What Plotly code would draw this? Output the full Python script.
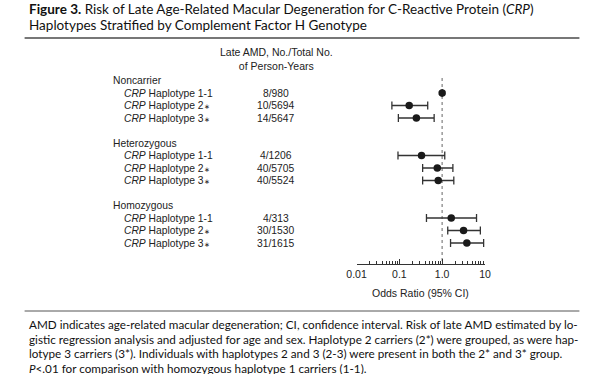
import plotly.graph_objects as go

# ---- data ----
groups = ["Noncarrier", "Heterozygous", "Homozygous"]
haplotypes = ["1-1", "2∗", "3∗"]
counts = ["8/980", "10/5694", "14/5647",
          "4/1206", "40/5705", "40/5524",
          "4/313", "30/1530", "31/1615"]
odds_ratio = [1.0, 0.17, 0.25, 0.33, 0.77, 0.81, 1.63, 3.16, 3.77]
ci_low = [None, 0.067, 0.095, 0.093, 0.35, 0.35, 0.43, 1.35, 1.57]
ci_high = [None, 0.46, 0.65, 1.15, 1.78, 1.87, 6.35, 7.8, 9.3]
tick_vals = [0.01, 0.1, 1, 10]
tick_text = ["0.01", "0.1", "1.0", "10"]

title_lines = [
    "<b>Figure 3.</b> Risk of Late Age-Related Macular Degeneration for C-Reactive Protein (<i>CRP</i>)",
    "Haplotypes Stratified by Complement Factor H Genotype",
]
foot_lines = [
    "AMD indicates age-related macular degeneration; CI, confidence interval. Risk of late AMD estimated by lo-",
    "gistic regression analysis and adjusted for age and sex. Haplotype 2 carriers (2*) were grouped, as were hap-",
    "lotype 3 carriers (3*). Individuals with haplotypes 2 and 3 (2-3) were present in both the 2* and 3* group.",
    "<i>P</i><.01 for comparison with homozygous haplotype 1 carriers (1-1).",
]

W, H = 600, 374
CHART_FONT = "Liberation Sans, Arial, sans-serif"
TEXT_FONT = "Lato, Noto Sans, sans-serif"

# row slots: header at g*5, rows at g*5+1+i
row_pos = []
for g in range(len(groups)):
    for i in range(len(haplotypes)):
        row_pos.append(g * 5 + 1 + i)

# pixel mapping of the slot axis: pixel = 80.5 + 12.5*k
def k_of(px):
    return (px - 80.5) / 12.5

def hap_label(hp):
    if hp.endswith("∗"):
        return "<i>CRP</i> Haplotype " + hp[:-1] + "<span style='font-size:7px'>∗</span>"
    return "<i>CRP</i> Haplotype " + hp

err_plus = [None if h is None else h - o for o, h in zip(odds_ratio, ci_high)]
err_minus = [None if l is None else o - l for o, l in zip(odds_ratio, ci_low)]

fig = go.Figure()
fig.add_trace(go.Scatter(
    x=odds_ratio, y=row_pos, mode="markers",
    marker=dict(size=7.5, color="#1a1a1a"),
    error_x=dict(type="data", symmetric=False, array=err_plus, arrayminus=err_minus,
                 color="#333333", thickness=1.3, width=4),
    hoverinfo="skip", showlegend=False,
))

annotations = []
# column header
annotations.append(dict(x=274 / W, xref="paper", y=k_of(59), yref="y",
                        text="Late AMD, No./Total No.<br>of Person-Years",
                        showarrow=False, xanchor="center", yanchor="middle",
                        font=dict(family=CHART_FONT, size=10.5, color="#222")))
for g, name in enumerate(groups):
    annotations.append(dict(x=104 / W, xref="paper", y=g * 5, yref="y", text=name,
                            showarrow=False, xanchor="left", yanchor="middle",
                            font=dict(family=CHART_FONT, size=10.3, color="#222")))
    for i, hp in enumerate(haplotypes):
        idx = g * 3 + i
        annotations.append(dict(x=115 / W, xref="paper", y=row_pos[idx], yref="y",
                                text=hap_label(hp),
                                showarrow=False, xanchor="left", yanchor="middle",
                                font=dict(family=CHART_FONT, size=10.3, color="#222")))
        annotations.append(dict(x=273 / W, xref="paper", y=row_pos[idx], yref="y",
                                text=counts[idx],
                                showarrow=False, xanchor="center", yanchor="middle",
                                font=dict(family=CHART_FONT, size=10.3, color="#222")))
# axis title
annotations.append(dict(x=422 / W, xref="paper", y=1 - 293 / H, yref="paper",
                        text="Odds Ratio (95% CI)", showarrow=False,
                        xanchor="center", yanchor="middle",
                        font=dict(family=CHART_FONT, size=10.5, color="#222")))
# title lines
for j, (t, py) in enumerate(zip(title_lines, [9, 25])):
    annotations.append(dict(x=17 / W, xref="paper", y=1 - py / H, yref="paper",
                            text=t, showarrow=False, xanchor="left", yanchor="middle",
                            font=dict(family=TEXT_FONT, size=13.5, color="#111")))
# footnote lines
for t, py in zip(foot_lines, [324, 338.5, 353, 367.5]):
    annotations.append(dict(x=17 / W, xref="paper", y=1 - py / H, yref="paper",
                            text=t, showarrow=False, xanchor="left", yanchor="middle",
                            font=dict(family=TEXT_FONT, size=11.7, color="#111")))

shapes = [
    dict(type="line", xref="paper", yref="paper", x0=15 / W, x1=585 / W,
         y0=1 - 38 / H, y1=1 - 38 / H, line=dict(color="#777", width=2)),
    dict(type="line", xref="paper", yref="paper", x0=15 / W, x1=585 / W,
         y0=1 - 311 / H, y1=1 - 311 / H, line=dict(color="#555", width=1)),
    dict(type="line", xref="x", yref="y", x0=1, x1=1, y0=k_of(78), y1=k_of(264),
         line=dict(color="#999", width=1.5, dash="dot"), layer="below"),
]

minor_vals = [m * 10 ** e for e in (-2, -1, 0) for m in range(2, 10)]

fig.update_layout(
    width=W, height=H, margin=dict(l=0, r=0, t=0, b=0),
    paper_bgcolor="white", plot_bgcolor="white",
    annotations=annotations, shapes=shapes,
    xaxis=dict(type="log", range=[-2, 1], domain=[356 / W, 488 / W],
               anchor="free", position=1 - 264 / H,
               showline=True, linecolor="#333", linewidth=1,
               ticks="inside", ticklen=5, tickwidth=1, tickcolor="#333",
               tickvals=tick_vals, ticktext=tick_text,
               tickfont=dict(family=CHART_FONT, size=10.5, color="#222"),
               minor=dict(tickvals=minor_vals, ticks="inside", ticklen=3,
                          tickcolor="#333", tickwidth=1),
               showgrid=False, zeroline=False, fixedrange=True),
    yaxis=dict(range=[k_of(H), k_of(0)], domain=[0, 1], visible=False,
               showgrid=False, zeroline=False, fixedrange=True),
)

fig.write_html("out.html", config={"displayModeBar": False},
               post_script="document.body.style.margin='0px';document.body.style.overflow='hidden';")
